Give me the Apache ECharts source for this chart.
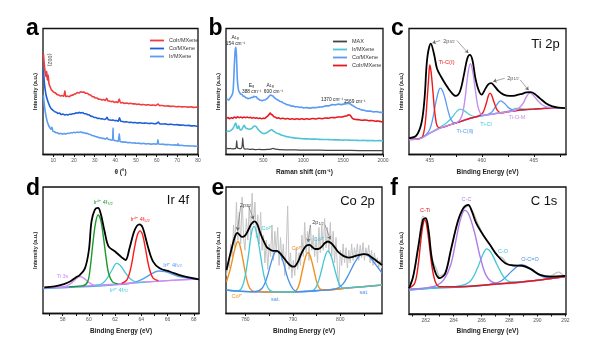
<!DOCTYPE html>
<html><head><meta charset="utf-8">
<script src="https://cdn.jsdelivr.net/npm/echarts@6/dist/echarts.min.js"></script>
<style>html,body{margin:0;padding:0;background:#fff}#c{width:600px;height:346px}</style>
</head><body><div id="c"></div>
<script>
// ---------- DATA ----------
// (a) XRD
const aCoIr = [[5.2,80],[5.6,72],[6.0,66],[6.4,62],[6.8,66],[7.1,59],[7.5,63],[7.9,56],[8.4,54],[9.0,51.5],[9.6,50.5],[10.2,49.5],[11,48.8],[11.8,47.6],[12.6,47.2],[13.4,46.4],[14.2,46.8],[15.0,46.2],[15.6,50.5],[16.0,46],[16.8,46.4],[17.6,45.8],[18.4,46.8],[19.2,47],[20.0,47.8],[20.8,48.2],[21.6,49.2],[22.4,48.8],[23.2,49.8],[24.0,49.4],[24.8,49.6],[25.6,48.6],[26.4,48.6],[27.2,47.6],[28.0,47.2],[28.8,46],[29.6,45.8],[30.4,44.8],[31.2,44.8],[32.0,43.8],[32.8,43.8],[33.6,43.2],[34.4,43.6],[35.2,42.8],[35.8,44.6],[36.4,42.6],[37.2,42.4],[38.0,42],[38.8,42.2],[39.6,41.4],[40.4,41.8],[41.2,41.2],[41.9,44],[42.5,41],[43.4,41.2],[44.4,40.6],[45.4,40.8],[46.4,40.4],[47.4,40.6],[48.4,40.2],[49.4,40.2],[50.4,39.8],[51.4,40],[52.4,39.5],[53.6,39.7],[54.8,39.3],[56,39.5],[57.2,39.1],[58.4,39.3],[59.6,38.9],[60.6,40],[61.4,38.8],[62.6,38.9],[64,38.5],[65.4,38.6],[66.8,38.2],[68.2,38.3],[69.6,37.9],[71,38.1],[72.4,37.8],[73.8,37.9],[75.2,37.6],[76.6,37.8],[78,37.4],[79.4,37.6],[80,37.5]];
const aCo = [[5.2,67],[5.6,58],[6.0,52],[6.5,47],[7.0,44],[7.6,41],[8.3,38.2],[9.0,36.4],[9.8,35.2],[10.6,34],[11.4,33.6],[12.2,32.6],[13.0,32.8],[13.8,31.8],[14.6,32.2],[15.4,31.4],[16.2,31.8],[17.0,31.3],[17.8,32],[18.6,31.8],[19.4,32.4],[20.2,32.4],[21.0,33],[21.8,32.8],[22.6,33.4],[23.4,33],[24.2,33.2],[25.0,32.4],[25.8,32.4],[26.6,31.6],[27.4,31.4],[28.2,30.4],[29.0,30.2],[29.8,29.4],[30.6,29.4],[31.4,28.6],[32.2,28.8],[33.0,28.2],[33.8,28.4],[34.6,27.8],[35.4,28.2],[36.0,29.6],[36.6,27.6],[37.4,27.4],[38.2,27.2],[39.0,27.4],[39.8,26.8],[40.6,27],[41.4,26.4],[42.0,29.2],[42.6,26.4],[43.6,26.2],[44.6,25.8],[45.6,26],[46.6,25.4],[47.6,25.6],[48.6,25.2],[49.6,25.4],[50.6,25],[52,25.2],[53.4,24.8],[54.8,25],[56.2,24.6],[57.6,24.8],[59,24.4],[60.2,24.8],[60.8,25.8],[61.4,24.4],[62.8,24.2],[64.2,24.3],[65.6,23.8],[67,24],[68.4,23.6],[69.8,23.7],[71.2,23.3],[72.6,23.4],[74,23],[75.4,23.1],[76.8,22.7],[78.2,22.8],[79.6,22.4],[80,22.5]];
const aIr = [[5.2,47],[5.6,40],[6.0,35],[6.5,30],[7.0,26.5],[7.6,23.5],[8.2,21.5],[8.8,20],[9.3,21.5],[9.8,18.6],[10.4,18.2],[11.2,17.4],[12.0,17.2],[12.8,16.4],[13.6,16.8],[14.4,16.2],[15.2,16.6],[16.0,16.2],[16.8,16.9],[17.6,16.7],[18.4,17.3],[19.2,17.1],[20.0,17.7],[20.8,17.3],[21.6,17.9],[22.4,17.5],[23.2,18],[24.0,17.4],[24.8,17.4],[25.6,16.8],[26.4,16.8],[27.2,16],[28.0,15.8],[28.8,15],[29.6,14.8],[30.4,14.2],[31.2,14],[32.0,13.4],[32.8,13.2],[33.6,12.8],[34.4,12.8],[35.2,12.2],[36.0,13.2],[36.6,12],[37.4,11.8],[38.2,11.4],[38.7,11.8],[38.9,21],[39.1,11.6],[39.8,11],[40.6,10.9],[41.4,10.4],[41.9,16.5],[42.3,10.4],[43.2,10],[44.2,9.8],[45.2,9.8],[46.2,9.4],[47.2,9.5],[48.2,9.1],[49.2,9.2],[50.2,8.9],[51.4,9],[52.6,8.6],[53.8,8.8],[55,8.4],[56.2,8.6],[57.4,8.2],[58.6,8.4],[59.8,8.2],[60.4,9],[60.6,11.6],[60.9,8.6],[61.6,8.1],[63,8.2],[64.4,7.8],[65.8,7.9],[67.2,7.5],[68.6,7.6],[70,7.3],[70.3,8.5],[70.6,7.2],[72,7.3],[73.4,6.9],[74.8,7],[76.2,6.7],[77.6,6.8],[79,6.5],[80,6.6]];
const aTicks = [10,20,30,40,50,60,70,80];
const aMinor = [10,15,20,25,30,35,40,45,50,55,60,65,70,75,80];

// (b) Raman
const bCo = [[35,43.3],[50,43.8],[65,43.2],[80,44.6],[95,46],[108,47.6],[118,50],[126,58],[134,70],[142,80],[148,84],[154,85],[160,80],[166,70],[172,60],[180,54],[190,50.5],[200,49.2],[215,48],[230,47.6],[245,46.4],[260,46.2],[275,45.2],[290,45],[305,44.2],[320,44.6],[335,44.6],[350,45.4],[365,45.2],[380,46.2],[395,45.8],[410,45.8],[425,44.4],[440,44],[455,43],[470,43],[485,42.6],[500,43.2],[515,43.2],[530,43.8],[545,44.4],[560,45.4],[575,46.4],[590,47.2],[605,46.8],[620,46.4],[635,45.2],[650,44.6],[670,43.6],[690,43],[710,42],[730,41.8],[750,40.8],[775,40.2],[800,39.4],[825,39.2],[850,38.4],[875,38.4],[900,37.8],[925,37.9],[950,37.4],[975,37.6],[1000,37],[1040,37.2],[1080,36.8],[1120,37.2],[1160,37.2],[1200,37.6],[1240,37.8],[1280,38.6],[1320,38.6],[1360,39.6],[1400,39.4],[1440,40],[1480,39.6],[1520,40.2],[1550,40.4],[1575,40.6],[1600,39.6],[1625,38.6],[1650,37.6],[1680,36.6],[1710,36],[1740,35.2],[1770,35],[1800,34.4],[1840,34.4],[1880,33.8],[1920,34],[1960,33.4],[2000,33.4]];
const bCoIr = [[35,28.6],[55,29.4],[75,28.4],[95,29.2],[115,28.8],[135,29.8],[155,29],[175,30],[195,29.2],[215,29.8],[235,29],[255,29.8],[275,29.2],[295,29.8],[315,29.2],[335,29.6],[355,28.8],[375,29.4],[395,28.8],[415,29.2],[435,28.6],[455,29],[475,28.4],[495,28.8],[515,28.6],[535,29.6],[555,30.6],[570,31.8],[585,32.8],[600,31.8],[615,31.2],[630,30],[650,29.6],[670,28.8],[690,29.2],[710,28.4],[740,28.8],[770,28.2],[800,28.6],[830,28],[860,28.4],[890,27.8],[920,28.4],[950,27.8],[980,28.4],[1010,27.8],[1040,28.4],[1080,28],[1120,28.6],[1160,28.2],[1200,28.8],[1240,28.4],[1280,29],[1320,28.8],[1360,29.4],[1400,29.2],[1440,29.8],[1480,29.8],[1520,30.4],[1550,30.8],[1570,31.6],[1590,31],[1610,29.2],[1630,28.2],[1660,27.8],[1700,27.6],[1740,27.2],[1780,27.4],[1820,26.8],[1860,27],[1900,26.4],[1940,26.6],[1980,26],[2000,26.2]];
const bIr = [[35,18],[55,18.6],[75,18.4],[95,19.4],[110,20],[125,21.6],[140,23.4],[150,25],[158,24],[166,21.4],[176,20.6],[184,22],[190,22.8],[198,20.8],[210,19.6],[222,19.4],[235,20.6],[248,22.4],[258,23.2],[268,22],[280,21],[295,20.6],[310,20.2],[325,20],[340,20.4],[355,20.8],[370,21.8],[385,22.6],[400,22.4],[415,21.6],[430,20.2],[445,19],[460,18.2],[475,17.4],[490,16.8],[505,16.6],[520,16.8],[535,17],[550,17.6],[565,18.4],[580,19],[595,19.6],[610,19.4],[625,18.6],[640,18],[660,17.2],[680,16.6],[700,16.2],[725,15.4],[750,15],[780,14.4],[810,14],[840,13.6],[870,13.4],[900,13],[940,12.8],[980,12.6],[1020,12.4],[1060,12.4],[1100,12.2],[1150,12.2],[1200,12],[1250,11.9],[1300,11.9],[1350,11.7],[1400,11.6],[1450,11.6],[1500,11.4],[1550,11.5],[1600,11.3],[1650,11.3],[1700,11.1],[1750,11.2],[1800,11],[1850,11.1],[1900,10.9],[1950,11],[2000,10.9]];
const bMax = [[35,5],[60,4.6],[85,4.8],[110,4.4],[135,4.6],[150,4.8],[158,6],[164,11],[170,6.5],[178,5],[190,4.8],[205,4.6],[220,4.9],[232,6.5],[240,13.3],[247,7.5],[256,4.8],[270,4.3],[300,4.4],[330,4],[360,4.2],[400,3.9],[450,4],[500,3.8],[550,4],[590,4.3],[620,4.8],[650,4.2],[700,3.8],[800,3.7],[900,3.6],[1000,3.5],[1200,3.4],[1400,3.3],[1600,3.2],[1800,3.1],[2000,3]];
const bTicks = [500,1000,1500,2000];
const bMinor = [250,500,750,1000,1250,1500,1750,2000];

// (c) Ti 2p
const cBase = [[453,11.8],[454,12.4],[454.5,14.5],[455,17],[456,21],[457,23.7],[458,26.3],[459,29],[460,30.8],[461,32],[462,33.4],[463,34.5],[464,35.5],[465,36],[466,36.6],[467,36.8],[468,37.1]];
const cRed = [[453,12],[454,12.6],[454.3,14],[454.55,24],[454.75,44],[454.9,62],[455.0,71],[455.12,66],[455.3,50],[455.5,32],[455.75,22],[456.1,21.3],[457,23.7],[458,26.3],[459,29],[459.7,30.6],[460.1,33],[460.45,41],[460.65,47],[460.8,48.7],[460.95,47],[461.2,41],[461.5,35],[461.9,33],[462.5,33.9],[463,34.5],[464,35.5],[465,36],[466,36.6],[467,36.8],[468,37.1]];
const cBlue = [[453,12],[454,12.8],[454.6,15.5],[455.0,20],[455.3,29],[455.55,40],[455.8,49],[456.0,52.6],[456.2,51],[456.45,45],[456.75,35],[457.05,27.5],[457.4,25],[458,26.3],[459,29],[460,30.8],[460.6,31.8],[461.0,34],[461.4,39],[461.8,42.6],[462.2,40.5],[462.6,37],[463.1,35],[464,35.5],[465,36],[466,36.6],[468,37.1]];
const cCyan = [[453,12],[454,12.6],[455,17],[455.8,20.8],[456.6,25],[457.2,30],[457.6,34.2],[457.9,36],[458.3,34.8],[458.8,31.8],[459.4,30],[460,30.8],[461,32],[462,33.4],[462.7,34.6],[463.3,36.6],[463.9,36.2],[464.5,35.7],[465,36],[466,36.6],[468,37.1]];
const cPurple = [[453,11.8],[454,12.4],[455,17],[456,21],[457,23.7],[457.7,25.8],[458.1,31],[458.4,45],[458.65,63],[458.9,72],[459.15,65],[459.4,50],[459.7,36],[460.1,31.2],[461,32],[462,33.4],[463,34.5],[463.6,37],[464.0,41],[464.3,46],[464.6,48.7],[464.9,47.5],[465.3,43.5],[465.8,39.5],[466.4,37.4],[467,36.9],[468,37.1]];
const cBlack = [[453,13],[453.7,15],[454.2,25],[454.5,45],[454.75,76],[455.1,88],[455.4,80],[455.7,68],[456.1,61.5],[456.5,56],[457,50],[457.5,46.5],[457.9,50],[458.3,64],[458.6,76],[458.85,79],[459.1,75],[459.4,60],[459.7,51],[460.0,47.5],[460.3,51.5],[460.6,55.5],[460.9,56.6],[461.2,54.5],[461.6,50.5],[462.1,47.5],[462.7,46.5],[463.2,46.8],[463.8,48],[464.3,49.3],[464.7,49.5],[465.1,48],[465.6,44.5],[466.2,40.5],[466.8,38.2],[467.4,37.2],[468,36.8]];
const cTicks = [455,460,465];
const cMinor = [455,457.5,460,462.5,465,467.5];

// (d) Ir 4f
const dBase = [[56.5,20.5],[58,21],[60,22],[62,23.2],[64,24.6],[66,26],[68.4,27.2]];
const dPurple = [[56.5,20.5],[57.5,20.8],[58.2,21.5],[58.6,23.5],[59.0,27],[59.3,29.1],[59.6,28],[59.95,25],[60.4,22.5],[61,22.3],[62,23.2],[64,24.6],[66,26],[68.4,27.2]];
const dGreen = [[58.5,21.2],[59.5,21.8],[59.9,25],[60.1,36],[60.3,55],[60.5,71],[60.7,78],[60.9,74],[61.1,61],[61.3,45],[61.5,32],[61.8,25],[62.2,23.4]];
const dCyan = [[60.5,22],[61.0,23.5],[61.4,28],[61.8,35],[62.1,39.7],[62.4,38],[62.8,32],[63.2,27],[63.7,24.6],[64.3,24.8]];
const dRed = [[62.5,23.8],[62.9,26.5],[63.2,36],[63.5,53],[63.7,62],[63.9,65.3],[64.1,62],[64.3,52],[64.6,36],[64.9,28],[65.3,26]];
const dBlue = [[56.5,19.8],[58,20.4],[60,21.4],[62,22.7],[63,23.6],[63.6,25],[64.2,27.8],[64.8,31.5],[65.3,33.6],[65.8,33.2],[66.4,31],[67,29],[67.6,27.8],[68.4,27]];
const dBlack = [[56.6,20.6],[57.4,21.5],[58.1,23.3],[58.6,25.5],[59.0,28.5],[59.3,30.4],[59.7,35.7],[60.0,50],[60.2,72.8],[60.45,82],[60.7,83.5],[60.9,79],[61.2,64.8],[61.5,53],[62.0,49],[62.5,44.4],[62.8,42.3],[63.1,51.6],[63.5,66.1],[63.85,70.5],[64.1,68],[64.5,53],[64.9,41],[65.4,35.7],[66.2,33],[67.2,29.6],[68.4,27]];
const dTicks = [58,60,62,64,66,68];
const dMinor = [57,58,59,60,61,62,63,64,65,66,67,68];

// (e) Co 2p
const eGray = [[776.0,30],[776.3,40],[776.6,36],[776.9,55],[777.2,45],[777.5,70],[777.8,52],[778.1,88],[778.4,58],[778.7,80],[779.0,55],[779.3,92],[779.6,60],[779.9,50],[780.2,75],[780.5,58],[780.8,85],[781.1,62],[781.4,95],[781.7,70],[782.0,88],[782.3,60],[782.6,78],[782.9,55],[783.2,80],[783.5,50],[783.8,62],[784.1,40],[784.4,58],[784.7,35],[785.0,55],[785.3,45],[785.6,70],[785.9,42],[786.2,65],[786.5,48],[786.8,68],[787.1,38],[787.4,60],[787.7,42],[788.0,55],[788.3,30],[788.6,50],[788.9,85],[789.2,35],[789.5,48],[789.8,28],[790.1,42],[790.4,30],[790.7,52],[791.0,35],[791.3,48],[791.6,38],[791.9,62],[792.2,45],[792.5,72],[792.8,48],[793.1,65],[793.4,42],[793.7,70],[794.0,50],[794.3,62],[794.6,45],[794.9,60],[795.2,40],[795.5,68],[795.8,48],[796.1,70],[796.4,50],[796.7,75],[797.0,52],[797.3,68],[797.6,48],[797.9,72],[798.2,45],[798.5,65],[798.8,40],[799.1,60],[799.4,35],[799.7,22],[800.0,50],[800.3,38],[800.6,55],[800.9,40],[801.2,52],[801.5,36],[801.8,50],[802.1,40],[802.4,55],[802.7,42],[803.0,52],[803.3,44],[803.6,55],[803.9,42],[804.2,54],[804.5,44],[804.8,56],[805.1,42],[805.4,52],[805.7,45],[806.0,54],[806.3,40],[806.6,50],[806.9,38],[807.2,48],[807.5,40],[807.8,44],[808.1,36],[808.4,42],[808.7,36]];
const eBase = [[776,18.5],[779,17.6],[782,17.2],[786,17],[790,17],[794,17.8],[798,19],[802,20.3],[806,21.6],[808.8,22.5]];
const eOrange = [[776,25],[776.8,35],[777.5,47],[778,54],[778.4,56.9],[778.9,53],[779.5,42],[780.2,28],[780.9,20],[781.8,17.5],[786,17],[790,17],[790.6,17.5],[791.3,22.5],[792,34],[792.7,45],[793.2,48.1],[793.7,45],[794.4,35],[795.1,24],[795.9,19],[797,18.6],[802,20.3],[808.8,22.5]];
const eCyan = [[776,18.5],[778,17.8],[779,19],[779.8,27],[780.6,45],[781.2,62],[781.8,68.8],[782.4,63],[783.1,48],[783.9,30],[784.8,20],[785.8,17.3],[790,17],[794,17.8],[795,21.5],[795.9,32],[796.7,44],[797.4,49.5],[798.1,45],[798.9,34],[799.7,24],[800.6,20],[801.5,20.2],[808.8,22.5]];
const eBlue = [[776,18.5],[782,17.2],[783.5,20],[784.5,28],[785.4,40],[786.1,47.5],[786.7,49.7],[787.3,47.5],[788.1,39],[789,27],[790,19.5],[791,17.3],[795,18],[799,19.5],[800.5,23],[801.8,31],[803,40],[804,45.5],[804.9,47.1],[805.8,46],[806.8,42],[807.8,37],[808.8,32]];
const eBlack = [[776,34.4],[776.6,44],[777.2,53],[777.8,61],[778.3,63.8],[778.8,62],[779.3,60.5],[780,62],[780.6,66],[781.2,70.5],[781.9,72.8],[782.5,70.5],[783.2,63],[783.9,56.9],[784.5,52.5],[785.2,50.5],[785.9,49.5],[786.5,49.5],[787.2,48],[787.9,45],[788.6,41.5],[789.3,38.5],[790.0,37],[790.5,37.5],[791.1,41],[791.7,46.5],[792.3,51],[792.9,53.8],[793.5,54.2],[794.1,52.5],[794.7,51],[795.3,51],[796,52.5],[796.7,55.5],[797.4,56.9],[798.1,55.5],[798.8,52.5],[799.5,49],[800.3,46.5],[801,45],[801.8,44.2],[802.6,44.7],[803.4,45.8],[804.2,46.6],[805,47],[805.8,46.5],[806.6,44.5],[807.4,42.3],[808.1,40.3],[808.8,38.4]];
const eTicks = [780,790,800];
const eMinor = [780,785,790,795,800,805];

// (f) C 1s
const fGray = [[280.8,21],[281.1,30],[281.45,50],[281.8,77],[282.0,74],[282.2,63],[282.5,42],[282.75,36],[283.0,30],[283.4,33],[283.8,49],[284.3,74],[284.7,82],[285.05,85],[285.4,80],[285.7,72],[286.1,63],[286.6,55],[287.1,46],[287.5,44],[287.9,39],[288.3,38],[288.9,39],[289.5,36],[290.2,31],[290.9,30],[291.5,33],[291.9,30]];
const fBase = [[280.8,19.5],[283,21],[285.4,22.1],[287.8,24.2],[290.2,26.8],[292,29.5]];
const fRed = [[280.8,20.5],[281.2,24],[281.45,38],[281.65,58],[281.8,70],[281.93,74.2],[282.05,71],[282.25,55],[282.45,37],[282.7,25],[283,21.5],[283.5,21.4],[285.4,22.1],[287.8,24.2],[290.2,26.8],[292,29.5]];
const fPurple = [[280.8,19.5],[282,20.5],[282.8,22.5],[283.3,27],[283.8,39],[284.2,60],[284.5,75],[284.8,81.6],[285.1,78],[285.5,64],[285.9,45],[286.3,31],[286.8,25],[287.5,24],[290.2,26.8],[292,29.5]];
const fCyan = [[280.8,19],[283,20.8],[284.5,22.3],[285.2,26],[285.7,36],[286.1,47],[286.36,51.3],[286.7,48],[287.1,39],[287.6,29],[288.1,25.2],[288.8,25.3],[290.2,26.8],[292,29.5]];
const fBlue = [[280.8,18.8],[283,20.5],[285.4,21.8],[286.5,23.2],[287.4,26],[288,32],[288.5,37],[288.8,38.7],[289.2,37.5],[289.8,33],[290.5,29],[291.2,28.5],[292,29.5]];
const fBlack = [[280.8,20.3],[281.1,29.5],[281.45,52],[281.8,74.2],[282.0,75.5],[282.2,66],[282.5,40],[283.0,28.2],[283.4,32],[283.8,50.5],[284.3,72.9],[284.7,83.4],[285.05,86],[285.3,81],[285.6,72],[286.1,62.4],[286.6,54.5],[287.1,46.5],[287.7,40],[288.3,38.2],[288.9,38],[289.5,35.5],[290.2,30.8],[290.9,29.5],[292,30]];
const fTicks = [282,284,286,288,290,292];
const fMinor = [281,282,283,284,285,286,287,288,289,290,291,292];

// ---------- CHART ----------
const FONT = 'Liberation Sans, Arial, Helvetica, sans-serif';
const chart = echarts.init(document.getElementById('c'), null, {renderer:'canvas'});

const grids = [
  {left:43, top:28.5, width:155, height:126},
  {left:226, top:28.5, width:157, height:126},
  {left:409, top:28.5, width:157, height:126},
  {left:43, top:187, width:156, height:126.5},
  {left:226, top:187, width:156, height:126.5},
  {left:409, top:187, width:157, height:127}
].map(g => Object.assign({show:true, borderColor:'#111', borderWidth:1.3, backgroundColor:'transparent', containLabel:false}, g));

function xAx(gi, min, max, ticks, minor, name) {
  return {type:'value', gridIndex:gi, min, max,
    axisLine:{show:true, lineStyle:{color:'#111', width:1.3}},
    splitLine:{show:false},
    axisTick:{show:true, inside:false, length:2.5, lineStyle:{color:'#111', width:1}, customValues:minor},
    axisLabel:{customValues:ticks, fontSize:5, color:'#555', margin:4, fontFamily:FONT, formatter: v => String(v)},
    name, nameLocation:'middle', nameGap:14,
    nameTextStyle:{fontSize:6.5, fontWeight:'bold', color:'#222', fontFamily:FONT}};
}
function yAx(gi) {
  return {type:'value', gridIndex:gi, min:0, max:100,
    axisLine:{show:false}, axisTick:{show:false}, axisLabel:{show:false}, splitLine:{show:false},
    name:'Intensity (a.u.)', nameLocation:'middle', nameGap:5,
    nameTextStyle:{fontSize:5.5, fontWeight:'bold', color:'#222', fontFamily:FONT}};
}
function ln(name, data, color, gi, w, z, smooth) {
  return {type:'line', name, data, xAxisIndex:gi, yAxisIndex:gi, symbol:'none', showSymbol:false,
    smooth: smooth === undefined ? 0.35 : smooth, lineStyle:{color, width:w||1.2}, itemStyle:{color}, z:z||2, silent:true};
}
function arrows(pairs) {
  return {silent:true, symbol:['none','arrow'], symbolSize:3.5, label:{show:false},
    lineStyle:{color:'#666', width:0.6, type:'solid'},
    data: pairs.map(p => [{coord:p[0]}, {coord:p[1]}])};
}

const cBlackS = ln('cBlack', cBlack, '#000', 2, 1.8, 5);
cBlackS.markLine = arrows([[[456.0,90.5],[455.25,88.5]],[[457.6,90.5],[458.7,80.5]],[[462.2,60.5],[461.1,57.9]],[[463.7,59.2],[464.5,51]]]);
const eBlackS = ln('eBlack', eBlack, '#000', 4, 1.8, 5);
eBlackS.markLine = arrows([[[779,84.6],[778.3,65.5]],[[780.7,84.6],[781.7,74.5]],[[793.7,70],[793.2,56.5]],[[796.8,70],[797.9,58.5]]]);

const series = [
  ln('CoIr/MXene', aCoIr, '#f23c3c', 0, 1.6, 2, 0.2),
  ln('Co/MXene', aCo, '#1f5fd8', 0, 1.6, 2, 0.2),
  ln('Ir/MXene', aIr, '#5c9df0', 0, 1.6, 2, 0.2),
  ln('MAX', bMax, '#444', 1, 1.2, 2, 0.2),
  ln('Ir/MXene ', bIr, '#4fc4d4', 1, 1.6, 2, 0.2),
  ln('Co/MXene ', bCo, '#5a9cf5', 1, 1.6, 2, 0.2),
  ln('CoIr/MXene ', bCoIr, '#e8181e', 1, 1.6, 2, 0.2),
  ln('cBase', cBase, '#c08ff0', 2, 1.5),
  ln('cCyan', cCyan, '#4ccfd8', 2, 1.3),
  ln('cBlue', cBlue, '#5b9bf0', 2, 1.3),
  ln('cRed', cRed, '#f01818', 2, 1.4),
  ln('cPurple', cPurple, '#c08ff0', 2, 1.4),
  cBlackS,
  ln('dBlue', dBlue, '#5b9bf0', 3, 1.5),
  ln('dBase', dBase, '#c890f0', 3, 1.2),
  ln('dPurple', dPurple, '#c890f0', 3, 1.3),
  ln('dCyan', dCyan, '#48c8d8', 3, 1.3),
  ln('dGreen', dGreen, '#1a9a2a', 3, 1.4),
  ln('dRed', dRed, '#ff1a1a', 3, 1.4),
  ln('dBlack', dBlack, '#000', 3, 1.8, 5),
  ln('eGray', eGray, '#c4c4c4', 4, 1, 1, false),
  ln('eBase', eBase, '#4a90e8', 4, 1.5),
  ln('eOrange', eOrange, '#f39020', 4, 1.4, 3),
  ln('eCyan', eCyan, '#3fc6d4', 4, 1.3, 3),
  ln('eBlue', eBlue, '#4a90e8', 4, 1.3, 3),
  eBlackS,
  ln('fGray', fGray, '#c4c4c4', 5, 1.3, 1),
  ln('fBase', fBase, '#4a90e8', 5, 1.3),
  ln('fBlue', fBlue, '#4a90e8', 5, 1.3),
  ln('fCyan', fCyan, '#40c8d4', 5, 1.3),
  ln('fPurple', fPurple, '#b07ce8', 5, 1.4),
  ln('fRed', fRed, '#e81818', 5, 1.4),
  ln('fBlack', fBlack, '#000', 5, 1.8, 5)
];

function T(x, y, text, fill, size) {
  const sz = size || 5.5;
  return {type:'text', x, y, silent:true, z:100,
    style:{text, fill, fontSize:sz, fontFamily:FONT, align:'center', verticalAlign:'middle',
      rich:{s:{fontSize:sz*0.7, fill, fontFamily:FONT, verticalAlign:'bottom'}}}};
}
function L(x, y, letter) {
  return {type:'text', x, y, silent:true, z:100,
    style:{text:letter, fill:'#000', fontSize:23, fontWeight:'bold', fontFamily:FONT, align:'center', verticalAlign:'middle'}};
}
const graphics = [
  L(32.5, 29, 'a'), L(215.5, 29, 'b'), L(397.5, 29, 'c'),
  L(33, 189, 'd'), L(218, 189, 'e'), L(394, 189, 'f'),
  T(545.5, 44, 'Ti 2p', '#111', 13),
  T(178, 200.5, 'Ir 4f', '#111', 13),
  T(357.5, 201.5, 'Co 2p', '#111', 13),
  T(544, 201.5, 'C 1s', '#111', 13),
  // a
  {type:'text', x:50, y:60, rotation:-Math.PI/2, silent:true, z:100,
    style:{text:'(002)', fill:'#444', fontSize:5.5, fontFamily:FONT, align:'center', verticalAlign:'middle'}},
  // b
  T(235, 37.5, 'A{s|1g}', '#222', 5),
  T(235.5, 44, '154 cm⁻¹', '#222', 4.8),
  T(251.5, 85.5, 'E{s|g}', '#222', 5),
  T(251.7, 91.7, '388 cm⁻¹', '#222', 4.8),
  T(270, 85.5, 'A{s|1g}', '#222', 5),
  T(273.5, 91.7, '600 cm⁻¹', '#222', 4.8),
  T(332, 99.3, '1370 cm⁻¹', '#222', 4.8),
  T(354.7, 101.7, '1569 cm⁻¹', '#222', 4.8),
  // c
  T(449, 41, '2p{s|3/2}', '#555', 5.5),
  T(513, 78, '2p{s|1/2}', '#555', 5.5),
  T(446.7, 62.2, 'Ti-C(Ⅰ)', '#f01818', 5.5),
  T(465, 131, 'Ti-C(Ⅱ)', '#5b9bf0', 5.5),
  T(486, 124, 'Ti-Cl', '#3fc6d4', 5.5),
  T(517, 117.5, 'Ti-O-M', '#c08ff0', 5.5),
  // d
  T(103, 202.5, 'Ir⁴⁺ 4f{s|7/2}', '#1a9a2a', 5.5),
  T(140, 219.7, 'Ir⁴⁺ 4f{s|5/2}', '#ff1a1a', 5.5),
  T(172.5, 265, 'Ir³⁺ 4f{s|5/2}', '#5b9bf0', 5.5),
  T(119, 290, 'Ir³⁺ 4f{s|7/2}', '#48c8d8', 5.5),
  T(62.5, 276, 'Ti 3s', '#c890f0', 5.5),
  // e
  T(245.5, 205, '2p{s|3/2}', '#444', 5.5),
  T(318, 222.5, '2p{s|1/2}', '#444', 5.5),
  T(267, 228.5, 'Co²⁺', '#3fc6d4', 5.5),
  T(297, 248.5, 'Co³⁺', '#f39020', 5.5),
  T(319, 239, 'Co²⁺', '#3fc6d4', 5.5),
  T(237, 296.7, 'Co³⁺', '#f39020', 5.5),
  T(275.5, 299, 'sat.', '#4a90e8', 5.5),
  T(364, 292.5, 'sat.', '#4a90e8', 5.5),
  // f
  T(425, 210.8, 'C-Ti', '#e81818', 5.5),
  T(466.5, 199, 'C-C', '#b07ce8', 5.5),
  T(503, 251.7, 'C-O', '#40c8d4', 5.5),
  T(530, 259, 'O-C=O', '#4a90e8', 5.5)
];

const legendCommon = {orient:'vertical', icon:'rect', itemWidth:14, itemHeight:1.8, itemGap:1, selectedMode:false,
  textStyle:{fontSize:5.5, color:'#333', fontFamily:FONT, lineHeight:7}};

chart.setOption({
  animation:false,
  backgroundColor:'#fff',
  grid: grids,
  xAxis: [
    xAx(0, 5, 80, aTicks, aMinor, 'θ (°)'),
    xAx(1, 30, 2000, bTicks, bMinor, 'Raman shift (cm⁻¹)'),
    xAx(2, 453, 468.1, cTicks, cMinor, 'Binding Energy (eV)'),
    xAx(3, 56.5, 68.4, dTicks, dMinor, 'Binding Energy (eV)'),
    xAx(4, 775.9, 808.8, eTicks, eMinor, 'Binding Energy (eV)'),
    xAx(5, 280.8, 292.05, fTicks, fMinor, 'Binding Energy (eV)')
  ],
  yAxis: [0,1,2,3,4,5].map(yAx),
  legend: [
    Object.assign({data:['CoIr/MXene','Co/MXene','Ir/MXene'], left:145, top:32}, legendCommon),
    Object.assign({data:['MAX','Ir/MXene ','Co/MXene ','CoIr/MXene '], left:328, top:33}, legendCommon)
  ],
  series,
  graphic: graphics
});
</script>
</body></html>
